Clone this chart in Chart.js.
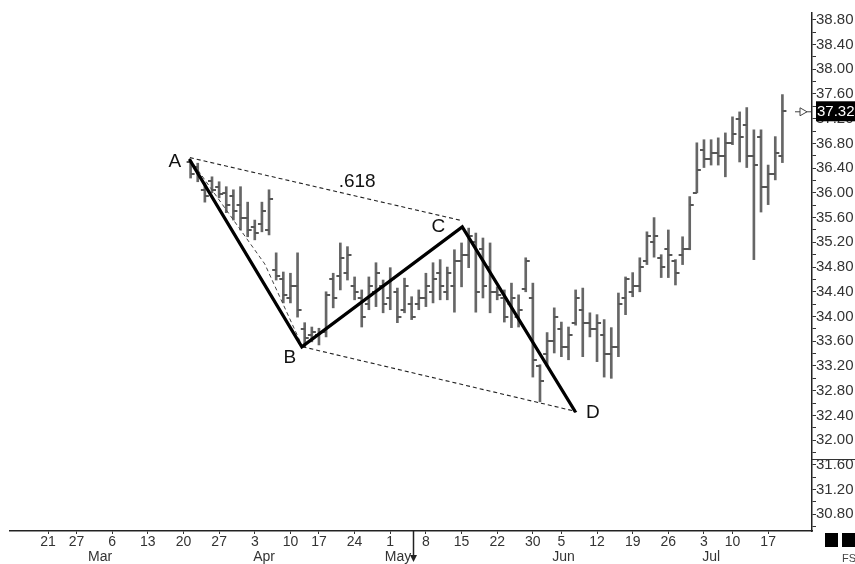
<!DOCTYPE html>
<html><head><meta charset="utf-8">
<script src="https://cdn.jsdelivr.net/npm/chart.js@4"></script>
<style>html,body{margin:0;padding:0;background:#fff;overflow:hidden}</style>
</head><body>
<canvas id="c" width="855" height="564"></canvas>
<script>
// ---- data (trading-day index axis; bar i sits on trading day firstBarDay + i) ----
const firstBarDay = 20;
const barDates = ['Mar 21','Mar 22','Mar 23','Mar 24','Mar 27','Mar 28','Mar 29','Mar 30','Mar 31',
 'Apr 3','Apr 4','Apr 5','Apr 6','Apr 7','Apr 10','Apr 11','Apr 12','Apr 13','Apr 17','Apr 18','Apr 19','Apr 20','Apr 21',
 'Apr 24','Apr 25','Apr 26','Apr 27','Apr 28','May 1','May 2','May 3','May 4','May 5','May 8','May 9','May 10','May 11','May 12',
 'May 15','May 16','May 17','May 18','May 19','May 22','May 23','May 24','May 25','May 26','May 30','May 31','Jun 1','Jun 2',
 'Jun 5','Jun 6','Jun 7','Jun 8','Jun 9','Jun 12','Jun 13','Jun 14','Jun 15','Jun 16','Jun 19','Jun 20','Jun 21','Jun 22','Jun 23',
 'Jun 26','Jun 27','Jun 28','Jun 29','Jun 30','Jul 3','Jul 5','Jul 6','Jul 7','Jul 10','Jul 11','Jul 12','Jul 13','Jul 14',
 'Jul 17','Jul 18','Jul 19'];
const highs = [36.53,36.48,36.16,36.26,36.18,36.10,36.05,36.10,35.85,35.56,35.85,36.05,
 35.03,34.72,34.70,35.03,33.90,33.83,33.81,34.40,34.70,35.19,35.13,34.64,34.43,34.64,34.87,34.59,
 34.79,34.46,34.62,34.32,34.43,34.70,34.87,34.92,34.80,35.08,35.19,35.43,35.35,35.27,35.19,34.48,
 34.43,34.54,34.35,34.95,34.54,33.22,33.74,34.14,33.91,33.83,34.43,34.46,34.06,34.03,33.95,33.82,
 34.38,34.64,34.71,34.95,35.37,35.60,35.00,35.40,34.92,35.29,35.94,36.81,36.86,36.86,36.89,36.97,
 37.23,37.31,37.38,37.02,37.02,36.45,36.91,37.59];
const lows = [36.24,36.18,35.85,36.00,35.92,35.68,35.56,35.40,35.29,35.24,35.37,35.32,
 34.59,34.22,34.22,33.99,33.50,33.59,33.54,33.67,34.14,34.43,34.59,34.27,33.83,34.11,34.16,34.06,
 34.11,33.90,34.06,33.95,34.11,34.16,34.22,34.27,34.27,34.07,34.48,34.79,34.07,34.30,34.06,34.27,
 33.91,33.82,33.83,34.40,33.02,32.62,33.19,33.41,33.35,33.30,33.86,33.35,33.67,33.27,33.02,33.00,
 33.35,34.03,34.32,34.40,34.84,34.96,34.63,34.63,34.51,34.84,35.08,36.00,36.41,36.45,36.45,36.26,
 36.78,36.50,36.41,34.92,35.69,35.81,36.21,36.49];
const opens = [36.50,36.42,36.05,36.20,36.10,36.00,35.95,35.80,35.60,35.45,35.50,35.40,
 34.75,34.60,34.30,34.50,33.80,33.70,33.70,33.75,34.60,34.65,34.70,34.50,34.30,34.20,34.40,34.50,
 34.30,34.40,34.10,34.20,34.20,34.30,34.40,34.70,34.40,34.50,34.90,35.00,35.20,35.10,34.80,34.40,
 34.30,34.20,34.00,34.45,34.30,33.20,33.40,33.60,33.80,33.50,33.90,34.10,33.90,33.80,33.70,33.40,
 33.50,34.30,34.40,34.50,34.90,35.20,34.95,35.10,34.90,35.00,35.10,36.00,36.70,36.55,36.65,36.60,
 36.80,37.20,37.10,36.60,36.90,36.10,36.30,36.60];
const closes = [36.30,36.25,35.95,36.05,35.98,35.80,35.70,35.60,35.40,35.35,35.70,35.90,
 34.65,34.35,34.50,34.10,33.65,33.75,33.75,34.35,34.30,34.95,35.00,34.40,34.00,34.50,34.70,34.20,
 34.60,34.00,34.50,34.00,34.30,34.50,34.60,34.50,34.70,34.90,35.00,35.30,34.40,34.50,34.40,34.35,
 34.00,34.30,34.10,34.90,33.30,32.95,33.60,34.00,33.50,33.70,34.30,33.90,33.80,33.90,33.40,33.50,
 34.20,34.60,34.50,34.80,35.30,35.30,34.80,35.00,34.70,35.10,35.80,36.37,36.55,36.65,36.60,36.80,
 36.95,36.90,36.60,36.45,36.10,36.30,36.65,37.32];

// x-axis tick labels (trading-day index -> label)
const dayTickDays   = [0,4,9,14,19,24,29,34,38,43,48,53,58,63,68,72,77,82,87,92,96,101];
const dayTickLabels = ['21','27','6','13','20','27','3','10','17','24','1','8','15','22','30','5','12','19','26','3','10','17'];
const monthLabels   = ['Mar','Apr','May','Jun','Jul'];
const monthLabelDays = [7.3,30.3,49.1,72.3,93.0];

// y-axis ticks
const yTickValues = [30.6,30.8,31.0,31.2,31.4,31.6,31.8,32.0,32.2,32.4,32.6,32.8,33.0,33.2,33.4,33.6,33.8,34.0,
 34.2,34.4,34.6,34.8,35.0,35.2,35.4,35.6,35.8,36.0,36.2,36.4,36.6,36.8,37.0,37.2,37.4,37.6,37.8,38.0,38.2,38.4,38.6,38.8];
const yTickLabels = ['','30.80','','31.20','','31.60','','32.00','','32.40','','32.80','','33.20','','33.60','','34.00',
 '','34.40','','34.80','','35.20','','35.60','','36.00','','36.40','','36.80','','37.20','','37.60','','38.00','','38.40','','38.80'];

// ABCD pattern annotation (trading day, price)
const waveLabels = ['A','B','C','D'];
const wavePoints = [[19.9,36.53],[35.6,33.51],[58.1,35.45],[73.9,32.47]];
const dashAC = [[19.9,36.57],[58.1,35.55]];
const dashBD = [[35.7,33.51],[74.2,32.46]];
const dashAB = [[19.9,36.55],[30.4,34.85],[35.7,33.51]];
const ratioLabel = '.618';
const lastPrice = 37.32;
const cursorDay = 51.2;

// ---- build ----
const FONT = '"Liberation Sans", Arial, Helvetica, sans-serif';
function tickImg(side){
  const c = document.createElement('canvas'); c.width = 10; c.height = 2;
  const g = c.getContext('2d'); g.fillStyle = '#555';
  if (side < 0) g.fillRect(1,0,4,2); else g.fillRect(5,0,4,2);
  return c;
}
const xy = a => a.map(p => ({x:p[0], y:p[1]}));
const barData = highs.map((h,i) => ({x: firstBarDay + i, y: [lows[i], h]}));
const openData = opens.map((o,i) => ({x: firstBarDay + i, y: o}));
const closeData = closes.map((c,i) => ({x: firstBarDay + i, y: c}));

const overlay = {
  id: 'overlay',
  afterDraw(chart){
    const ctx = chart.ctx, xs = chart.scales.x, ys = chart.scales.y;
    ctx.save();
    ctx.fillStyle = '#111'; ctx.textAlign = 'center'; ctx.textBaseline = 'middle';
    ctx.font = '19px ' + FONT;
    const offs = [[-15,2],[-12,11],[-24,0],[18,2]];
    wavePoints.forEach((p,i) => {
      ctx.fillText(waveLabels[i], xs.getPixelForValue(p[0]) + offs[i][0], ys.getPixelForValue(p[1]) + offs[i][1]);
    });
    const ax = xs.getPixelForValue(dashAC[0][0]), ay = ys.getPixelForValue(dashAC[0][1]);
    const cx = xs.getPixelForValue(dashAC[1][0]), cy = ys.getPixelForValue(dashAC[1][1]);
    const t = 0.614;
    ctx.fillText(ratioLabel, ax + (cx-ax)*t, ay + (cy-ay)*t - 15);

    // last price marker
    const py = ys.getPixelForValue(lastPrice), axL = ys.left;
    ctx.fillStyle = '#000';
    ctx.fillRect(axL + 4, py - 10, 50, 20);
    ctx.fillStyle = '#fff'; ctx.textAlign = 'left';
    ctx.font = '15px ' + FONT;
    ctx.fillText(lastPrice.toFixed(2), axL + 5, py + 1);
    ctx.strokeStyle = '#444'; ctx.lineWidth = 1;
    ctx.beginPath(); ctx.moveTo(axL - 17, py + 0.5); ctx.lineTo(axL - 1, py + 0.5); ctx.stroke();
    ctx.beginPath(); ctx.moveTo(axL - 12, py - 3.5); ctx.lineTo(axL - 12, py + 4.5); ctx.lineTo(axL - 5, py + 0.5); ctx.closePath();
    ctx.fillStyle = '#fff'; ctx.fill(); ctx.stroke();

    // panel separator on price axis
    const sy = Math.round(ys.getPixelForValue(31.69)) + 0.5;
    ctx.strokeStyle = '#333';
    ctx.beginPath(); ctx.moveTo(axL, sy); ctx.lineTo(chart.width, sy); ctx.stroke();

    // cursor marker on the date axis
    const mx = Math.round(xs.getPixelForValue(cursorDay)) + 0.5;
    ctx.strokeStyle = '#222'; ctx.lineWidth = 1.5;
    ctx.beginPath(); ctx.moveTo(mx, chart.chartArea.bottom); ctx.lineTo(mx, 559); ctx.stroke();
    ctx.fillStyle = '#222';
    ctx.beginPath(); ctx.moveTo(mx - 3.5, 555); ctx.lineTo(mx + 3.5, 555); ctx.lineTo(mx, 562); ctx.closePath(); ctx.fill();

    // corner blocks
    ctx.fillStyle = '#000';
    ctx.fillRect(825, 533, 13, 14);
    ctx.fillRect(842, 533, 13, 14);
    ctx.fillStyle = '#444'; ctx.font = '11px ' + FONT; ctx.textAlign = 'left';
    ctx.fillText('FS', 842, 559);
    ctx.restore();
  }
};

new Chart(document.getElementById('c'), {
  type: 'bar',
  data: {
    datasets: [
      {type:'line', data: xy(wavePoints), borderColor:'#000', borderWidth:3.2, pointRadius:0, tension:0,
       borderCapStyle:'round', borderJoinStyle:'miter', order:0},
      {type:'line', data: xy(dashAC), borderColor:'#222', borderWidth:1.1, borderDash:[4,3], pointRadius:0, order:1},
      {type:'line', data: xy(dashBD), borderColor:'#222', borderWidth:1.1, borderDash:[4,3], pointRadius:0, order:1},
      {type:'line', data: xy(dashAB), borderColor:'#444', borderWidth:1, borderDash:[4,3], pointRadius:0, order:1},
      {type:'line', data: openData, showLine:false, pointStyle: tickImg(-1), pointRadius:3, order:2},
      {type:'line', data: closeData, showLine:false, pointStyle: tickImg(1), pointRadius:3, order:2},
      {type:'bar', data: barData, backgroundColor:'#666', borderWidth:0, borderSkipped:false,
       barThickness:2, order:3}
    ]
  },
  options: {
    responsive: false, animation: false, events: [],
    devicePixelRatio: 1,
    layout: {padding: {left:10, top:13, right:0, bottom:0}},
    plugins: {legend:{display:false}, tooltip:{enabled:false}},
    scales: {
      x: {
        type:'linear', position:'bottom', min:-5.33, max:107.15, offset:false, weight:0,
        grid:{display:true, drawOnChartArea:false, drawTicks:true, tickLength:3, color:'#333', offset:false},
        border:{display:true, color:'#222', width:1.5},
        afterBuildTicks: s => { s.ticks = dayTickDays.map(v => ({value:v})); },
        ticks:{autoSkip:false, maxRotation:0, minRotation:0, padding:0, color:'#333',
               font:{family:FONT, size:14}, callback:(v,i) => dayTickLabels[i]},
        afterFit: s => { s.height = 17; }
      },
      x2: {
        type:'linear', position:'bottom', min:-5.33, max:107.15, offset:false, weight:1,
        grid:{display:false, drawTicks:false, offset:false},
        border:{display:false},
        afterBuildTicks: s => { s.ticks = monthLabelDays.map(v => ({value:v})); },
        ticks:{autoSkip:false, maxRotation:0, minRotation:0, padding:1, color:'#333',
               font:{family:FONT, size:14}, callback:(v,i) => monthLabels[i]},
        afterFit: s => { s.height = 16; }
      },
      y: {
        type:'linear', position:'right', min:30.53, max:38.91,
        grid:{drawOnChartArea:false, drawTicks:true, tickLength:4, color:'#333'},
        border:{display:true, color:'#222', width:1.5},
        afterBuildTicks: s => { s.ticks = yTickValues.map(v => ({value:v})); },
        ticks:{autoSkip:false, padding:0, color:'#333', font:{family:FONT, size:15},
               callback:(v,i) => yTickLabels[i]},
        afterFit: s => { s.width = 43; }
      }
    }
  },
  plugins: [overlay]
});
</script>
</body></html>
